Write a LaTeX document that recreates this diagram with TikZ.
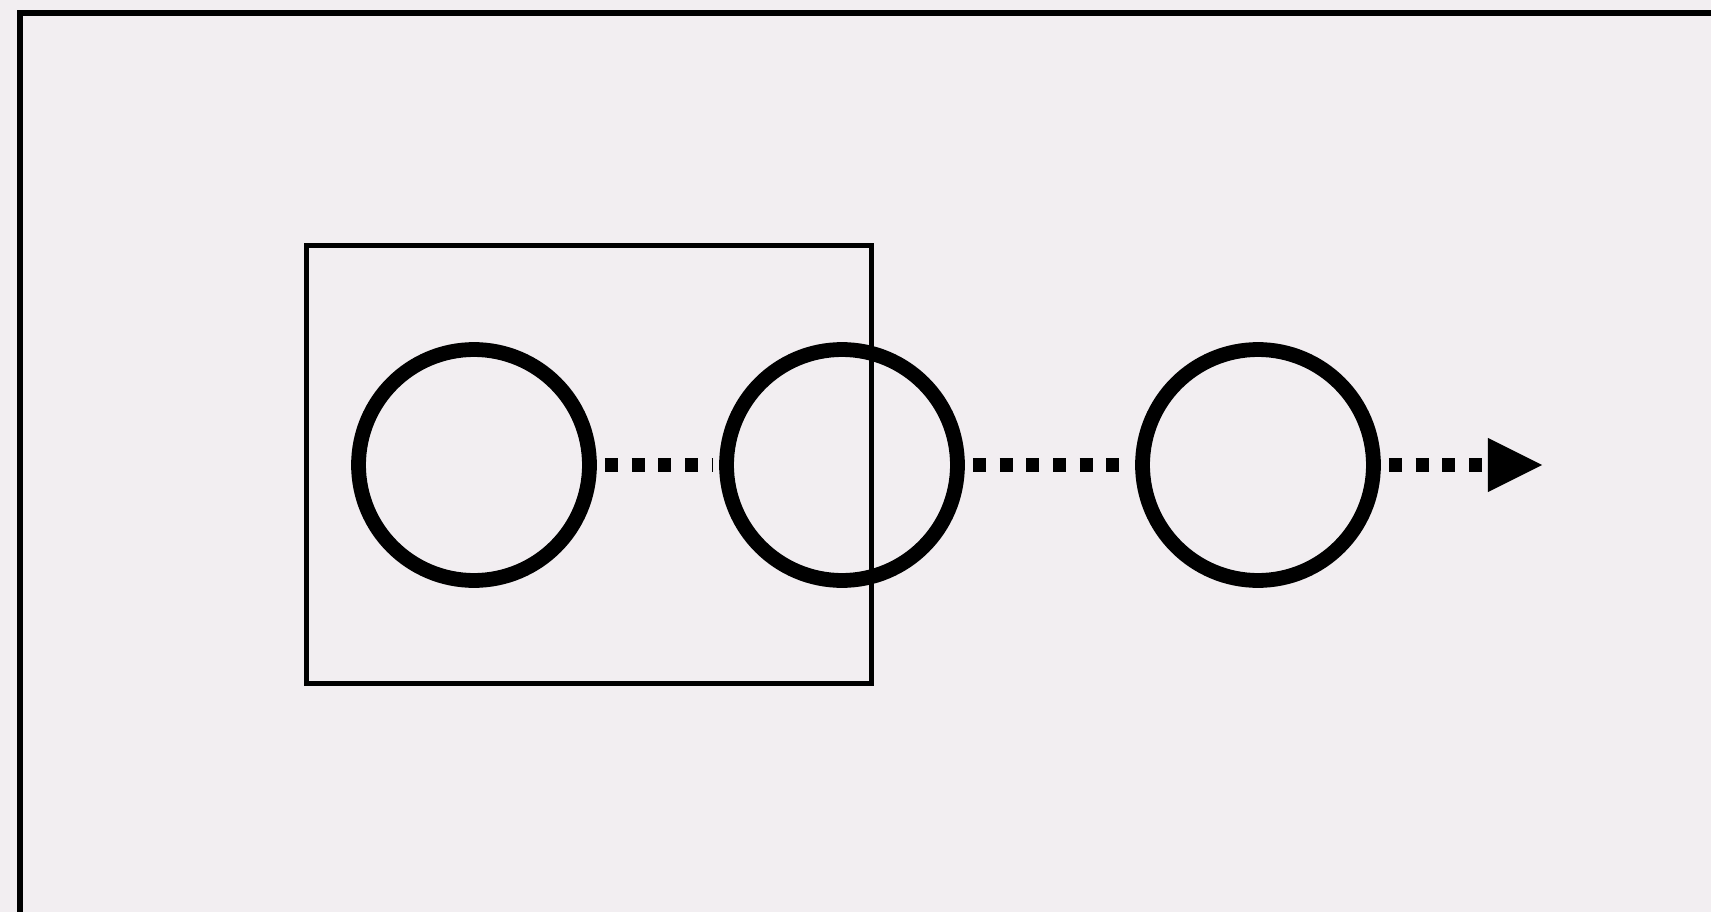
\documentclass[tikz,border=0pt]{standalone}
\usepackage{tikz}
\usetikzlibrary{arrows.meta}
\definecolor{paper}{RGB}{242,238,241}

\begin{document}
\begin{tikzpicture}[x=0.01cm,y=-0.01cm,
    ring/.style={circle,draw=black,line width=0.148cm,inner sep=0pt,
        minimum size=2.308cm,fill=paper},
    link/.style={line width=0.13cm,dash pattern=on 0.13cm off 0.137cm,
        shorten <=0.08cm}]
    \fill[paper] (0,0) rectangle (1711,912);
    \useasboundingbox (0,0) rectangle (1711,912);
    \draw[line width=0.05cm] (20,1000) -- (20,13) -- (1800,13);

    \node[ring] (c1) at (474,465) {};
    \node[ring] (c2) at (842,465) {};
    \node[ring] (c3) at (1258,465) {};
    \coordinate (tip) at (1542,465);

    \draw[link,shorten >=0.06cm] (c1) -- (c2);
    \draw[link,shorten >=0.06cm] (c2) -- (c3);
    \draw[link,-{Triangle[length=0.54cm,width=0.54cm,line width=0pt]}] (c3) -- (tip);

    \draw[line width=0.05cm] (306,245) rectangle (871,683);
\end{tikzpicture}
\end{document}
